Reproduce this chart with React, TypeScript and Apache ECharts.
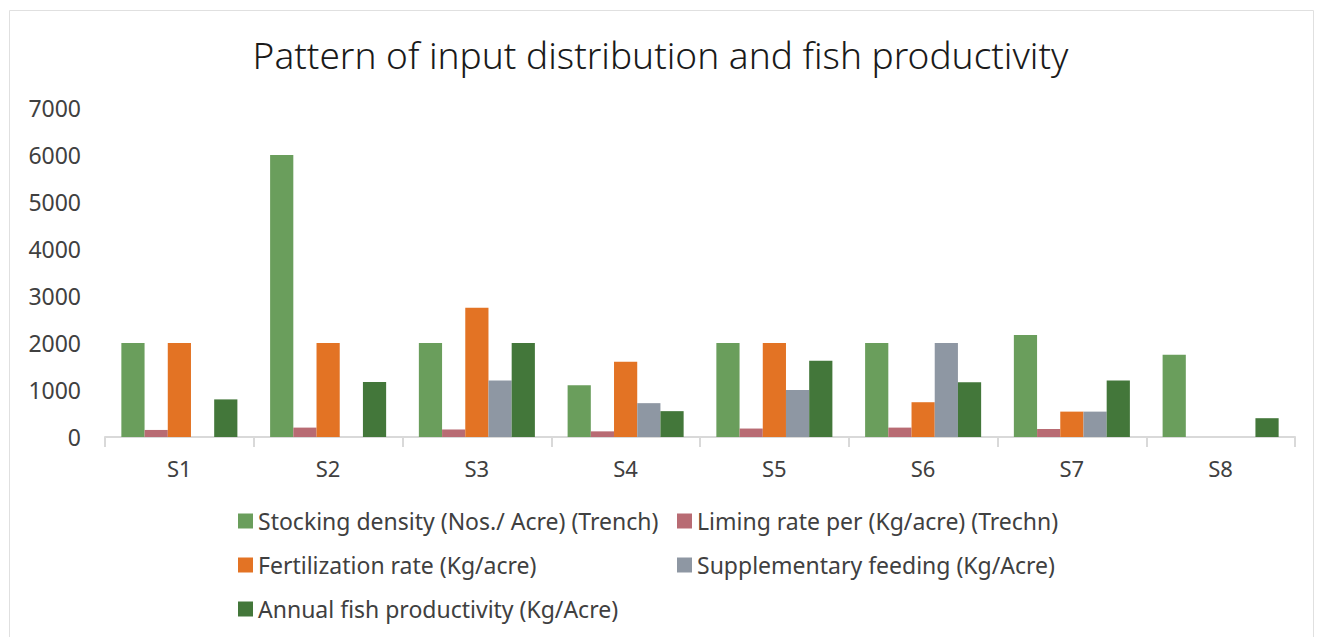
import React, { useEffect, useRef } from "react";
import * as echarts from "echarts";

const categories = ["S1", "S2", "S3", "S4", "S5", "S6", "S7", "S8"];
const stocking = [2000, 6000, 2000, 1100, 2000, 2000, 2170, 1750];
const liming = [150, 200, 160, 120, 180, 200, 170, null];
const fertilization = [2000, 2000, 2750, 1600, 2000, 740, 540, null];
const supplementary = [null, null, 1200, 720, 1000, 2000, 540, null];
const productivity = [800, 1170, 2000, 550, 1620, 1165, 1200, 400];

const seriesNames = [
  "Stocking density (Nos./ Acre) (Trench)",
  "Liming rate per (Kg/acre) (Trechn)",
  "Fertilization rate (Kg/acre)",
  "Supplementary feeding (Kg/Acre)",
  "Annual fish productivity (Kg/Acre)",
];
const colors = ["#6A9E5C", "#B86B73", "#E37324", "#8E97A3", "#43773A"];
const seriesData = [stocking, liming, fertilization, supplementary, productivity];

const FONT = "Noto Sans";

export default function App() {
  const ref = useRef<HTMLDivElement>(null);
  useEffect(() => {
    const chart = echarts.init(ref.current!, null, { renderer: "svg" });
    const legendText = { fontFamily: FONT, fontSize: 23, color: "#404040", lineHeight: 24 };
    chart.setOption({
      animation: false,
      backgroundColor: "#ffffff",
      color: colors,
      title: {
        text: "Pattern of input distribution and fish productivity",
        left: "center",
        top: 31,
        textStyle: { fontFamily: FONT, fontSize: 37, fontWeight: 300, color: "#1a1a1a" },
      },
      graphic: [
        {
          type: "rect",
          shape: { x: 9.5, y: 10.5, width: 1304, height: 640 },
          style: { fill: "none", stroke: "#e0e0e0", lineWidth: 1 },
          silent: true,
        },
      ],
      legend: [
        {
          orient: "vertical",
          left: 233,
          top: 504,
          itemGap: 20,
          itemWidth: 15,
          itemHeight: 15,
          icon: "rect",
          textStyle: legendText,
          data: [seriesNames[0], seriesNames[2], seriesNames[4]],
        },
        {
          orient: "vertical",
          left: 672,
          top: 504,
          itemGap: 20,
          itemWidth: 15,
          itemHeight: 15,
          icon: "rect",
          textStyle: legendText,
          data: [seriesNames[1], seriesNames[3]],
        },
      ],
      grid: { left: 105, right: 26, top: 108, bottom: 200, containLabel: false },
      xAxis: {
        type: "category",
        data: categories,
        axisLine: { lineStyle: { color: "#d9d9d9", width: 2 } },
        axisTick: { show: true, length: 10, lineStyle: { color: "#d9d9d9", width: 2 } },
        axisLabel: { fontFamily: FONT, fontSize: 22, color: "#404040", margin: 20 },
      },
      yAxis: {
        type: "value",
        min: 0,
        max: 7000,
        interval: 1000,
        axisLine: { show: false },
        axisTick: { show: false },
        splitLine: { show: false },
        axisLabel: {
          fontFamily: FONT,
          fontSize: 23,
          color: "#404040",
          margin: 24,
          formatter: (v: number) => String(v),
        },
      },
      series: seriesNames.map((name, i) => ({
        name,
        type: "bar",
        data: seriesData[i],
        barGap: "0%",
        barCategoryGap: "22%",
        itemStyle: { color: colors[i] },
      })),
    });
    return () => chart.dispose();
  }, []);
  return (
    <div
      ref={ref}
      style={{ position: "absolute", left: 0, top: 0, width: 1321, height: 637 }}
    />
  );
}
